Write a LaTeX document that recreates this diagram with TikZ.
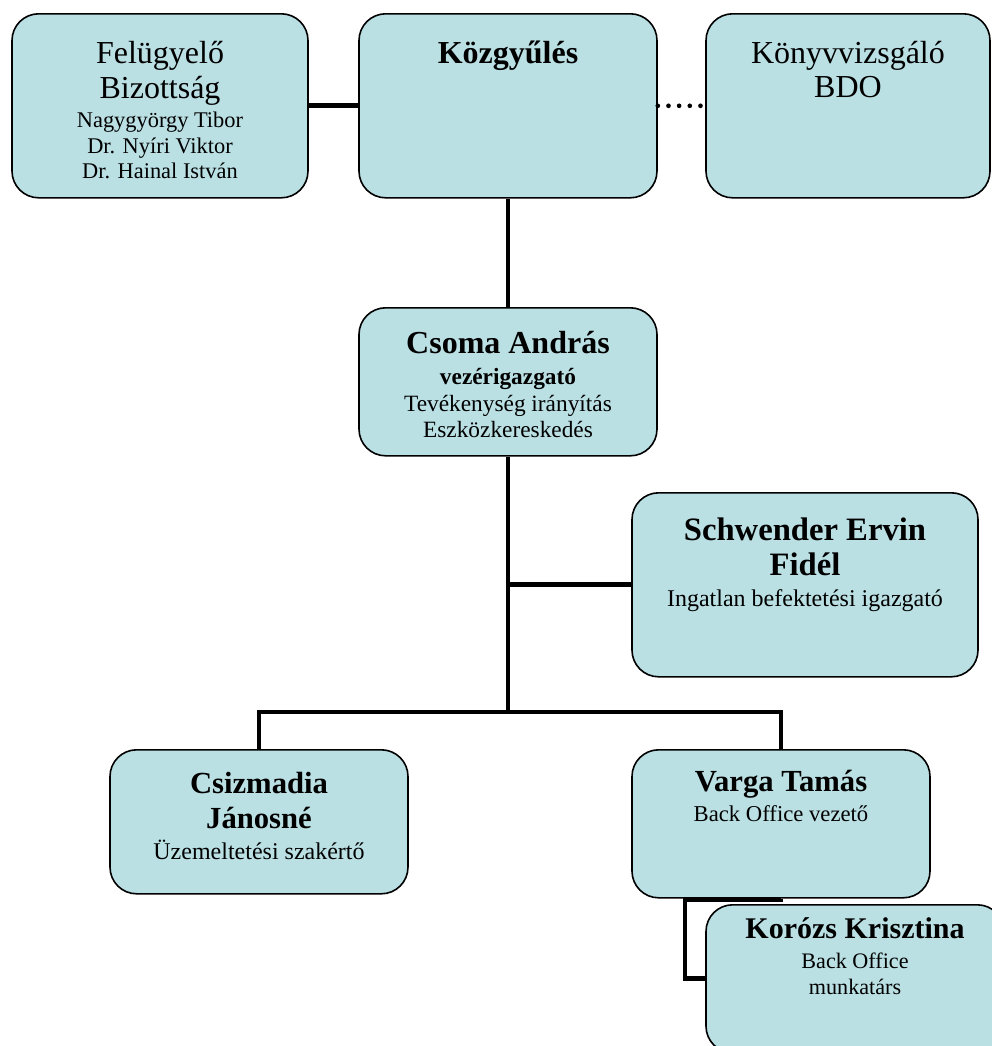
\documentclass[tikz,border=0pt]{standalone}
\usepackage{fontspec}
\setmainfont{Liberation Serif}
\usetikzlibrary{positioning}
\definecolor{orgfill}{RGB}{186,224,228}
% box text: width, height, first baseline, content
\newcommand{\orgtext}[4]{%
  \begin{minipage}[t][#2][t]{#1}\centering\rule{0pt}{#3}#4\end{minipage}}
\newcommand{\boxtitle}[2][24]{{\fontsize{#1}{26}\selectfont\bfseries #2\par}\vspace{3pt}}
\newcommand{\boxplain}[2][24]{{\fontsize{#1}{26}\selectfont #2\par}\vspace{3pt}}
\tikzset{
    every node/.style={
        font=\fontsize{17}{19.5}\selectfont
    },
    orgbox/.style={
        draw,
        fill=orgfill,
        line width=1.2pt,
        rounded corners=20pt,
        inner sep=0pt,
        anchor=north
    },
    link/.style={line width=3.6pt},
    dotlink/.style={line width=3.5pt, line cap=round, dash pattern=on 0pt off 8pt}
}

\begin{document}
\begin{tikzpicture}[x=0.75pt, y=-0.75pt]
    \useasboundingbox (0,0) rectangle (992,1046);
    \clip (0,0) rectangle (992,1046);
    % top row
    \node (felugy) [orgbox, font=\fontsize{16.8}{19}\selectfont] at (160,13) {\orgtext{222pt}{138pt}{37.5pt}{\boxplain{Felügyelő\\Bizottság}Nagygyörgy Tibor\\Dr. Nyíri Viktor\\Dr. Hainal István}};
    \node (kozgy) [orgbox] at (508,13) {\orgtext{223.5pt}{138pt}{37pt}{\boxtitle{Közgyűlés}}};
    \node (konyv) [orgbox] at (848,13) {\orgtext{213pt}{138pt}{37pt}{\boxplain{Könyvvizsgáló\\BDO}}};
    % management
    \node (csoma) [orgbox, font=\fontsize{17.5}{20}\selectfont] at (508,307) {\orgtext{223.5pt}{111pt}{34.5pt}{\boxtitle{Csoma András}\textbf{vezérigazgató}\\Tevékenység irányítás\\Eszközkereskedés}};
    \node (schw) [orgbox, font=\fontsize{18}{20}\selectfont] at (805,492) {\orgtext{259.5pt}{138pt}{36pt}{\boxtitle[24.5]{Schwender Ervin\\Fidél}Ingatlan befektetési igazgató}};
    \node (csizm) [orgbox, font=\fontsize{18}{20}\selectfont] at (259,749) {\orgtext{223.5pt}{108pt}{33pt}{\boxtitle[23]{Csizmadia\\Jánosné}Üzemeltetési szakértő}};
    \node (varga) [orgbox] at (781,749) {\orgtext{223.5pt}{111pt}{31pt}{\boxtitle[23]{Varga Tamás}Back Office vezető}};
    \node (korozs) [orgbox, font=\fontsize{16.6}{19.5}\selectfont] at (855,904) {\orgtext{223.5pt}{111pt}{25.5pt}{\boxtitle[22.5]{Korózs Krisztina}Back Office\\munkatárs}};
    % Connectors
    \coordinate (bus) at (508,712);
    \coordinate (tap) at (csoma.south |- schw.west);
    \coordinate (elbow) at (685,900);
    \draw[link] (felugy) -- (kozgy);
    \draw[dotlink] (kozgy) -- (konyv);
    \draw[link] (kozgy) -- (csoma);
    \draw[link] (csoma) -- (bus);
    \draw[link] (tap) -- (schw);
    \draw[link] (csizm) |- (bus) -| (varga);
    \draw[link] (varga) |- (elbow) |- (korozs);
\end{tikzpicture}
\end{document}
